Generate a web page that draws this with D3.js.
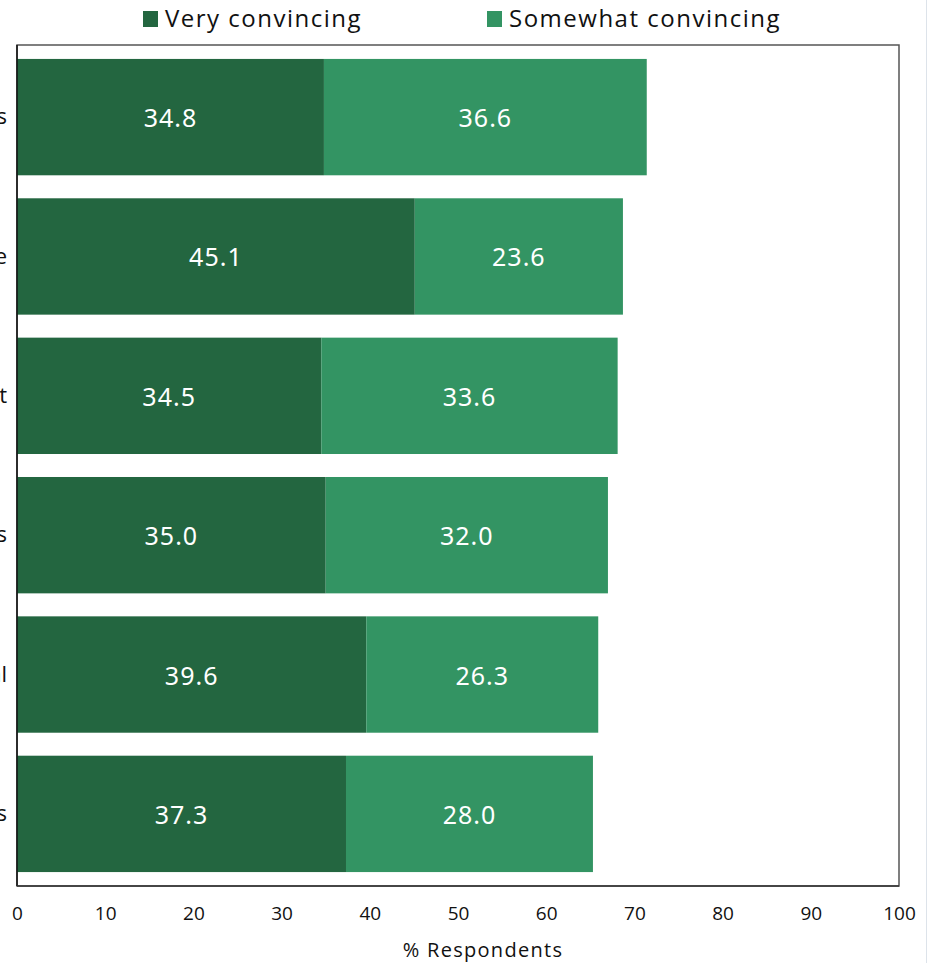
<!DOCTYPE html>
<html>
<head>
<meta charset="utf-8">
<script src="https://cdn.jsdelivr.net/npm/d3@7"></script>
<style>
  html, body { margin: 0; padding: 0; background: #fff; }
  svg { display: block; }
</style>
</head>
<body>
<svg id="chart" width="930" height="963"></svg>
<script>
// Survey results: share of respondents rating each argument as convincing
const categories = [
  "Creates new jobs",
  "Protects the future",
  "Helps the environment",
  "Saves money for families",
  "Keeps energy local",
  "Reduces health costs"
];
const veryConvincing = [34.8, 45.1, 34.5, 35.0, 39.6, 37.3];
const somewhatConvincing = [36.6, 23.6, 33.6, 32.0, 26.3, 28.0];
const seriesNames = ["Very convincing", "Somewhat convincing"];
const xTicks = [0, 10, 20, 30, 40, 50, 60, 70, 80, 90, 100];
const xTitle = "% Respondents";

const colors = ["#236640", "#339463"];

const svg = d3.select("#chart");
const margin = { top: 45, right: 31, bottom: 77, left: 17 };
const W = 930, H = 963;
const innerW = W - margin.left - margin.right;
const innerH = H - margin.top - margin.bottom;

const x = d3.scaleLinear().domain([0, 100]).range([0, innerW]);
const y = d3.scaleBand().domain(categories).range([0, innerH])
  .paddingInner(0.165).paddingOuter(0.1);

const g = svg.append("g").attr("transform", `translate(${margin.left},${margin.top})`);

// plot frame
g.append("rect")
  .attr("x", 0).attr("y", 0).attr("width", innerW).attr("height", innerH)
  .attr("fill", "none").attr("stroke", "#555").attr("stroke-width", 1.5);

// stacked bars
const stackData = categories.map((c, i) => ({ cat: c, very: veryConvincing[i], somewhat: somewhatConvincing[i] }));
const stack = d3.stack().keys(["very", "somewhat"]);
const layers = stack(stackData);

layers.forEach((layer, li) => {
  const lg = g.append("g");
  lg.selectAll("rect").data(layer).join("rect")
    .attr("x", d => x(d[0]))
    .attr("y", d => y(d.data.cat))
    .attr("width", d => x(d[1]) - x(d[0]))
    .attr("height", y.bandwidth())
    .attr("fill", colors[li]);
  lg.selectAll("text").data(layer).join("text")
    .attr("x", d => x((d[0] + d[1]) / 2))
    .attr("y", d => y(d.data.cat) + y.bandwidth() / 2)
    .attr("dy", "0.4em")
    .attr("text-anchor", "middle")
    .attr("fill", "#fff")
    .style("font-family", "'Noto Sans', 'Open Sans', sans-serif")
    .style("font-size", "25px")
    .style("letter-spacing", "1px")
    .text(d => (d[1] - d[0]).toFixed(1));
});

// left and bottom axis lines
g.append("line").attr("x1", 0).attr("x2", 0).attr("y1", 0).attr("y2", innerH)
  .attr("stroke", "#111").attr("stroke-width", 1.5);
g.append("line").attr("x1", 0).attr("x2", innerW).attr("y1", innerH).attr("y2", innerH)
  .attr("stroke", "#333").attr("stroke-width", 1.5);

// category labels (right-aligned against the axis)
const yAxis = d3.axisLeft(y).tickSize(0).tickPadding(10);
const yg = g.append("g").call(yAxis);
yg.select(".domain").remove();
yg.selectAll("text")
  .attr("fill", "#111")
  .style("font-family", "'Open Sans', sans-serif")
  .style("font-size", "22px");

// x axis
const xAxis = d3.axisBottom(x).tickValues(xTicks).tickSize(0).tickPadding(21)
  .tickFormat(d3.format("d"));
const xg = g.append("g").attr("transform", `translate(0,${innerH})`).call(xAxis);
xg.select(".domain").remove();
xg.selectAll("text")
  .attr("fill", "#111")
  .style("font-family", "'Open Sans', sans-serif")
  .style("font-size", "19px");

g.append("text")
  .attr("x", 466).attr("y", innerH + 71)
  .attr("text-anchor", "middle")
  .attr("fill", "#111")
  .style("font-family", "'Open Sans', sans-serif")
  .style("font-size", "20px")
  .style("letter-spacing", "1.3px")
  .text(xTitle);

// legend
const legendX = [143, 487];
const legend = svg.append("g");
seriesNames.forEach((name, i) => {
  legend.append("rect")
    .attr("x", legendX[i]).attr("y", 11).attr("width", 15).attr("height", 16)
    .attr("fill", colors[i]);
  legend.append("text")
    .attr("x", legendX[i] + 22).attr("y", 18.5).attr("dy", "0.36em")
    .attr("fill", "#111")
    .style("font-family", "'Open Sans', sans-serif")
    .style("font-size", "24px")
    .style("letter-spacing", "1.5px")
    .text(name);
});

// thin page edge on the right
svg.append("line").attr("x1", 926.5).attr("x2", 926.5).attr("y1", 0).attr("y2", H)
  .attr("stroke", "#dde3ea").attr("stroke-width", 1);
</script>
</body>
</html>
